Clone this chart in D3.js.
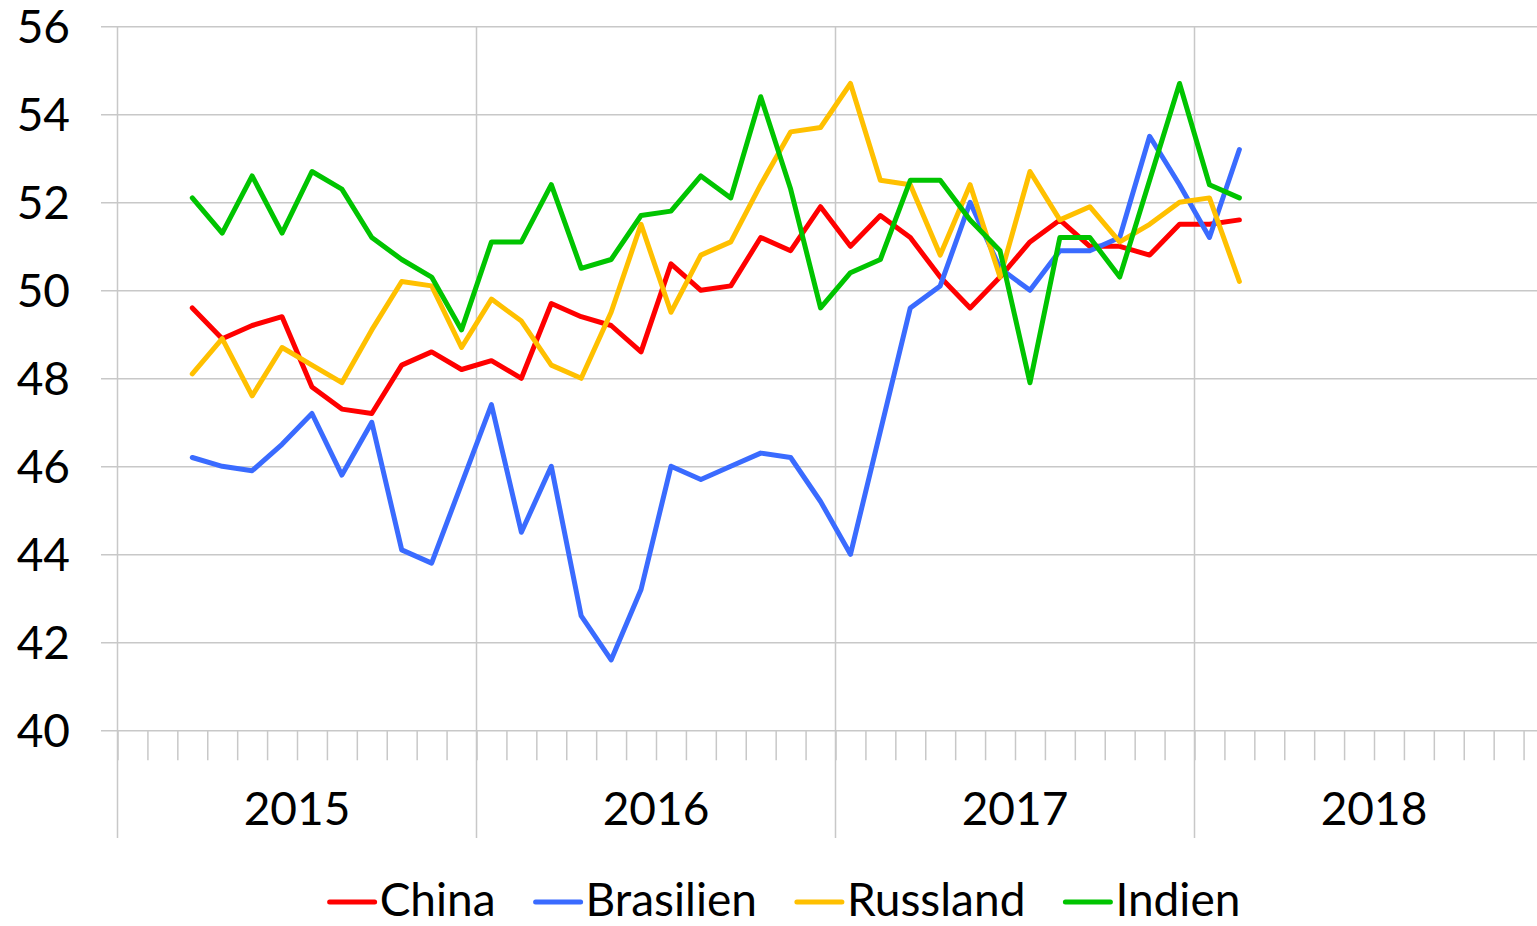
<!DOCTYPE html>
<html>
<head>
<meta charset="utf-8">
<script src="https://cdn.jsdelivr.net/npm/d3@7"></script>
<style>
  html, body { margin: 0; padding: 0; background: #fff; }
  svg { display: block; font-family: Lato, "Open Sans", sans-serif; }
</style>
</head>
<body>
<div id="chart"></div>
<script>
// months Mar 2015 .. Feb 2018
const months = [
  "2015-03", "2015-04", "2015-05", "2015-06", "2015-07", "2015-08", "2015-09", "2015-10", "2015-11", "2015-12",
  "2016-01", "2016-02", "2016-03", "2016-04", "2016-05", "2016-06", "2016-07", "2016-08", "2016-09", "2016-10", "2016-11", "2016-12",
  "2017-01", "2017-02", "2017-03", "2017-04", "2017-05", "2017-06", "2017-07", "2017-08", "2017-09", "2017-10", "2017-11", "2017-12",
  "2018-01", "2018-02"
]
const years = [2015, 2016, 2017, 2018]
const yTicks = [40, 42, 44, 46, 48, 50, 52, 54, 56]

const china = [49.6, 48.9, 49.2, 49.4, 47.8, 47.3, 47.2, 48.3, 48.6, 48.2, 48.4, 48.0, 49.7, 49.4, 49.2, 48.6, 50.6, 50.0,
  50.1, 51.2, 50.9, 51.9, 51.0, 51.7, 51.2, 50.3, 49.6, 50.3, 51.1, 51.6, 51.0, 51.0, 50.8, 51.5, 51.5, 51.6]
const brasilien = [46.2, 46.0, 45.9, 46.5, 47.2, 45.8, 47.0, 44.1, 43.8, 45.6, 47.4, 44.5, 46.0, 42.6, 41.6, 43.2, 46.0, 45.7,
  46.0, 46.3, 46.2, 45.2, 44.0, 46.8, 49.6, 50.1, 52.0, 50.5, 50.0, 50.9, 50.9, 51.2, 53.5, 52.4, 51.2, 53.2]
const russland = [48.1, 48.9, 47.6, 48.7, 48.3, 47.9, 49.1, 50.2, 50.1, 48.7, 49.8, 49.3, 48.3, 48.0, 49.5, 51.5, 49.5, 50.8,
  51.1, 52.4, 53.6, 53.7, 54.7, 52.5, 52.4, 50.8, 52.4, 50.3, 52.7, 51.6, 51.9, 51.1, 51.5, 52.0, 52.1, 50.2]
const indien = [52.1, 51.3, 52.6, 51.3, 52.7, 52.3, 51.2, 50.7, 50.3, 49.1, 51.1, 51.1, 52.4, 50.5, 50.7, 51.7, 51.8, 52.6,
  52.1, 54.4, 52.3, 49.6, 50.4, 50.7, 52.5, 52.5, 51.6, 50.9, 47.9, 51.2, 51.2, 50.3, 52.5, 54.7, 52.4, 52.1]

const seriesNames = ["China", "Brasilien", "Russland", "Indien"]
const seriesValues = [china, brasilien, russland, indien]
const seriesColors = ["#ff0000", "#3a6bff", "#ffc000", "#00c400"]

const WIDTH = 1537
const HEIGHT = 926
const FONT = 46
const GRID = "#c8c8c8"

// month index counted from Jan 2015
const monthIndex = (s) => {
  const [y, m] = s.split("-").map(Number)
  return (y - years[0]) * 12 + (m - 1)
}

const x = d3.scaleLinear()
  .domain([0, years.length * 12])
  .range([117.5, 1553.5])

const y = d3.scaleLinear()
  .domain([40, 56])
  .range([730.3, 26.3])

const svg = d3.select("#chart")
  .append("svg")
    .attr("width", WIDTH)
    .attr("height", HEIGHT)

// horizontal gridlines + y labels
const yAxis = svg.append("g")
  .attr("transform", "translate(101,0)")
  .call(d3.axisLeft(y)
    .tickValues(yTicks)
    .tickSizeInner(-(WIDTH - 101))
    .tickSizeOuter(0)
    .tickPadding(31))
yAxis.select(".domain").remove()
yAxis.selectAll("line").attr("stroke", GRID).attr("stroke-width", 1.5)
yAxis.selectAll("text")
  .attr("font-size", FONT)
  .attr("font-family", "Lato")
  .attr("fill", "#000")
  .attr("dy", "0.36em")

// monthly ticks below the axis
const monthTicks = d3.range(0, years.length * 12 + 1)
const xAxis = svg.append("g")
  .attr("transform", `translate(0,${y(40)})`)
  .call(d3.axisBottom(x)
    .tickValues(monthTicks)
    .tickSize(30)
    .tickFormat(""))
xAxis.select(".domain").remove()
xAxis.selectAll("line").attr("stroke", GRID).attr("stroke-width", 1.5)

// year separators
svg.append("g")
  .selectAll("line")
  .data(years.concat([years[years.length - 1] + 1]))
  .join("line")
    .attr("x1", (d) => x((d - years[0]) * 12))
    .attr("x2", (d) => x((d - years[0]) * 12))
    .attr("y1", y(56))
    .attr("y2", 838)
    .attr("stroke", GRID)
    .attr("stroke-width", 1.5)

// year labels
svg.append("g")
  .selectAll("text")
  .data(years)
  .join("text")
    .attr("x", (d) => x((d - years[0]) * 12 + 6))
    .attr("y", 825)
    .attr("text-anchor", "middle")
    .attr("font-size", FONT)
    .attr("fill", "#000")
    .text((d) => d)

// lines
const line = d3.line()
  .x((d, i) => x(monthIndex(months[i]) + 0.5))
  .y((d) => y(d))

svg.append("g")
  .selectAll("path")
  .data(seriesValues)
  .join("path")
    .attr("d", line)
    .attr("fill", "none")
    .attr("stroke", (d, i) => seriesColors[i])
    .attr("stroke-width", 5)
    .attr("stroke-linejoin", "round")
    .attr("stroke-linecap", "round")

// legend
const legend = svg.append("g")
const items = legend.selectAll("g")
  .data(seriesNames)
  .join("g")

items.append("line")
  .attr("x1", 0)
  .attr("x2", 45)
  .attr("y1", 902)
  .attr("y2", 902)
  .attr("stroke", (d, i) => seriesColors[i])
  .attr("stroke-width", 5)
  .attr("stroke-linecap", "round")

items.append("text")
  .attr("x", 50)
  .attr("y", 916)
  .attr("font-size", FONT)
  .attr("fill", "#000")
  .text((d) => d)

let offset = 0
const offsets = []
items.each(function () {
  offsets.push(offset)
  const w = 50 + d3.select(this).select("text").node().getComputedTextLength()
  offset += w + 40
})
const total = offset - 40
const start = 785 - total / 2
items.attr("transform", (d, i) => `translate(${start + offsets[i]},0)`)
</script>
</body>
</html>
